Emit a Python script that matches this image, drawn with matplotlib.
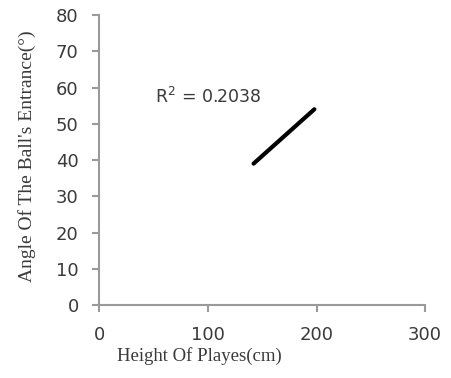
import matplotlib
matplotlib.use("Agg")
import matplotlib.pyplot as plt

# Linear trendline of ball entrance angle against player height
height_cm = [142, 198]
angle_deg = [39, 54]
r_squared = 0.2038

x_ticks = [0, 100, 200, 300]
y_ticks = [0, 10, 20, 30, 40, 50, 60, 70, 80]

fig = plt.figure(figsize=(4.51, 3.78), dpi=100)
ax = fig.add_axes([0.2206, 0.1931, 0.7218, 0.7672])

ax.plot(height_cm, angle_deg, color="black", linewidth=3.0, solid_capstyle="round")

ax.set_xlim(0, 300)
ax.set_ylim(0, 80)
ax.set_xticks(x_ticks)
ax.set_yticks(y_ticks)

axis_grey = "#9a9a9a"
for side in ("top", "right"):
    ax.spines[side].set_visible(False)
for side in ("left", "bottom"):
    ax.spines[side].set_color(axis_grey)
    ax.spines[side].set_linewidth(1.5)
ax.tick_params(axis="both", colors=axis_grey, length=5, width=1.5,
               labelcolor="#3a3a3a", labelsize=13)
ax.tick_params(axis="x", pad=10)
ax.tick_params(axis="y", pad=10)

ax.text(51, 57.5, f"R$^2$ = {r_squared:.4f}", fontsize=12.5, color="#3a3a3a",
        va="center", ha="left")

fig.text(0.443, 0.058, "Height Of Playes(cm)", family="Liberation Serif",
         fontsize=13.5, color="#3a3a3a", ha="center", va="center")
fig.text(0.06, 0.587, "Angle Of The Ball's Entrance(°)", family="Liberation Serif",
         fontsize=14, color="#3a3a3a", ha="center", va="center", rotation=90)

fig.savefig("out.png", dpi=100)
